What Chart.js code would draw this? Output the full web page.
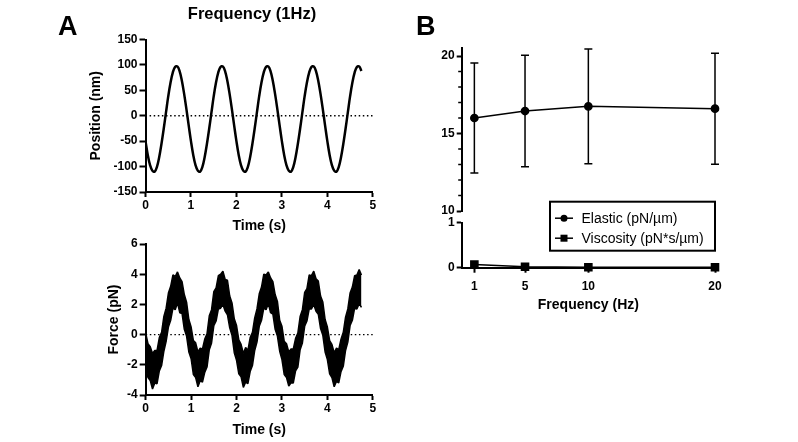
<!DOCTYPE html>
<html>
<head>
<meta charset="utf-8">
<script src="https://cdn.jsdelivr.net/npm/chart.js@4.4.1/dist/chart.umd.min.js"></script>
<style>
  html, body { margin: 0; padding: 0; background: #fff; }
  #wrap { position: relative; width: 798px; height: 442px; overflow: hidden; background: #fff; }
  canvas { position: absolute; }
</style>
</head>
<body>
<div id="wrap">
  <canvas id="posChart" width="400" height="240" style="left:0;top:0"></canvas>
  <canvas id="forceChart" width="400" height="212" style="left:0;top:230px"></canvas>
  <canvas id="elasticChart" width="398" height="225" style="left:400px;top:0"></canvas>
  <canvas id="viscChart" width="398" height="130" style="left:400px;top:190px"></canvas>
</div>
<script>
// ---- data ----
const timeS = [
  0, 0.05, 0.1, 0.15, 0.2, 0.25, 0.3, 0.35, 0.4, 0.45, 0.5, 0.55, 0.6, 0.65, 0.7, 0.75, 0.8, 0.85, 0.9, 0.95,
  1, 1.05, 1.1, 1.15, 1.2, 1.25, 1.3, 1.35, 1.4, 1.45, 1.5, 1.55, 1.6, 1.65, 1.7, 1.75, 1.8, 1.85, 1.9, 1.95,
  2, 2.05, 2.1, 2.15, 2.2, 2.25, 2.3, 2.35, 2.4, 2.45, 2.5, 2.55, 2.6, 2.65, 2.7, 2.75, 2.8, 2.85, 2.9, 2.95,
  3, 3.05, 3.1, 3.15, 3.2, 3.25, 3.3, 3.35, 3.4, 3.45, 3.5, 3.55, 3.6, 3.65, 3.7, 3.75, 3.8, 3.85, 3.9, 3.95,
  4, 4.05, 4.1, 4.15, 4.2, 4.25, 4.3, 4.35, 4.4, 4.45, 4.5, 4.55, 4.6, 4.65, 4.7, 4.75
];
const positionNm = [
  -50, -77, -97, -108, -110, -101, -82, -56, -26, 6, 38, 65, 85, 96, 97, 88, 69, 43, 13, -19,
  -50, -77, -97, -108, -110, -101, -82, -56, -26, 6, 38, 65, 85, 96, 97, 88, 69, 43, 13, -19,
  -50, -77, -97, -108, -110, -101, -82, -56, -26, 6, 38, 65, 85, 96, 97, 88, 69, 43, 13, -19,
  -50, -77, -97, -108, -110, -101, -82, -56, -26, 6, 38, 65, 85, 96, 97, 88, 69, 43, 13, -19,
  -50, -77, -97, -108, -110, -101, -82, -56, -26, 6, 38, 65, 85, 96, 97, 88
];
// noisy force trace: upper and lower edge of the band
const forceUpper = [
  0.1, -0.6, -0.8, -1.25, -1.05, -1.05, -0.2, 0.15, 1.2, 1.75, 2.75, 3.2, 3.95, 3.85, 4.15, 3.75, 3.5, 2.65, 2.15, 1.0,
  0.5, -0.4, -0.55, -1.15, -0.9, -0.95, -0.3, 0.05, 1.25, 1.65, 2.85, 3.1, 3.9, 4.0, 4.2, 3.65, 3.6, 2.55, 2.1, 1.05,
  0.6, -0.35, -0.65, -1.25, -0.85, -1.05, -0.2, 0.15, 1.1, 1.7, 2.7, 3.15, 4.0, 3.95, 4.15, 3.75, 3.5, 2.65, 2.2, 0.95,
  0.55, -0.45, -0.6, -1.15, -0.95, -0.95, -0.25, 0.1, 1.2, 1.65, 2.8, 3.05, 3.95, 3.9, 4.2, 3.7, 3.55, 2.55, 2.15, 1.0,
  0.5, -0.4, -0.65, -1.2, -0.9, -1.0, -0.3, 0.15, 1.15, 1.7, 2.75, 3.15, 3.9, 3.95, 4.3, 3.95
];
const forceLower = [
  -2.15, -2.85, -3.05, -3.6, -3.2, -3.25, -2.4, -2.05, -1.1, -0.45, 0.5, 0.95, 1.75, 1.65, 2.1, 1.45, 1.4, 0.35, -0.1, -1.15,
  -1.6, -2.65, -2.85, -3.45, -3.05, -3.15, -2.5, -2.15, -1.0, -0.55, 0.6, 0.9, 1.7, 1.75, 2.0, 1.55, 1.3, 0.45, -0.05, -1.2,
  -1.7, -2.6, -2.8, -3.5, -3.15, -3.25, -2.45, -2.05, -1.05, -0.5, 0.55, 0.95, 1.75, 1.65, 2.05, 1.45, 1.35, 0.35, -0.1, -1.1,
  -1.65, -2.65, -2.85, -3.4, -3.2, -3.2, -2.4, -2.15, -1.0, -0.55, 0.55, 0.9, 1.7, 1.7, 2.0, 1.55, 1.35, 0.4, -0.05, -1.15,
  -1.65, -2.6, -2.85, -3.45, -3.1, -3.2, -2.45, -2.1, -1.05, -0.5, 0.6, 0.95, 1.75, 1.7, 2.05, 1.8
];

const freqHz = [1, 5, 10, 20];
const elasticMean = [16.0, 16.45, 16.75, 16.6];
const elasticSd = [3.55, 3.6, 3.7, 3.58];
const viscosity = [0.07, 0.02, 0.01, 0.01];
const seriesNames = ['Elastic (pN/\u00b5m)', 'Viscosity (pN*s/\u00b5m)'];

const elasticTicks = [10, 15, 20];
const elasticMinor = [11, 12, 13, 14, 16, 17, 18, 19];
const viscTicks = [0, 1];
const freqTicks = [1, 5, 10, 20];

// ---- shared style ----
const FONT = "'Liberation Sans', Arial, Helvetica, sans-serif";
Chart.defaults.font.family = FONT;
Chart.defaults.color = '#000';
Chart.defaults.animation = false;

const tickFont = { size: 12, weight: 'bold' };
const titleFont = { size: 14, weight: 'bold' };

function axis(extra) {
  return Object.assign({
    type: 'linear',
    grid: { drawOnChartArea: false, tickLength: 5, tickColor: '#000', tickWidth: 2 },
    border: { color: '#000', width: 2 },
    ticks: { font: tickFont, color: '#000', maxRotation: 0, padding: 1 },
  }, extra);
}

const zeroLine = {
  id: 'zeroLine',
  beforeDatasetsDraw(chart) {
    const { ctx, chartArea: a, scales: { y } } = chart;
    const py = y.getPixelForValue(0);
    ctx.save();
    ctx.strokeStyle = '#000';
    ctx.lineWidth = 1.3;
    ctx.setLineDash([1.5, 2.6]);
    ctx.beginPath();
    ctx.moveTo(a.left, py);
    ctx.lineTo(a.right, py);
    ctx.stroke();
    ctx.restore();
  }
};

const headings = {
  id: 'headings',
  afterDraw(chart, args, opts) {
    const ctx = chart.ctx;
    ctx.save();
    ctx.fillStyle = '#000';
    ctx.textBaseline = 'alphabetic';
    opts.items.forEach(it => {
      ctx.font = 'bold ' + it.size + 'px ' + FONT;
      ctx.textAlign = it.align;
      ctx.fillText(it.text, it.x, it.y);
    });
    ctx.restore();
  }
};

// ---- A: position ----
new Chart(document.getElementById('posChart'), {
  type: 'line',
  data: {
    datasets: [{
      data: timeS.map((t, i) => ({ x: t, y: positionNm[i] })),
      borderColor: '#000',
      borderWidth: 2.5,
      pointRadius: 0,
      tension: 0.4,
      fill: false,
    }],
  },
  options: {
    responsive: false,
    layout: { padding: { left: 88, right: 27.2, top: 39.5, bottom: 5.6 } },
    plugins: {
      legend: { display: false },
      tooltip: { enabled: false },
      headings: { items: [
        { text: 'A', x: 58, y: 35, size: 27, align: 'left' },
        { text: 'Frequency (1Hz)', x: 252, y: 18.5, size: 16.5, align: 'center' },
      ] },
    },
    scales: {
      x: axis({
        min: 0, max: 5,
        ticks: { font: tickFont, stepSize: 1, maxRotation: 0, padding: 1 },
        title: { display: true, text: 'Time (s)', font: titleFont, padding: 0 },
        afterFit: s => { s.height = 42.4; },
      }),
      y: axis({
        min: -150, max: 150,
        grid: { drawOnChartArea: false, tickLength: 6, tickColor: '#000', tickWidth: 2 },
        ticks: { font: tickFont, stepSize: 50, padding: 2 },
        title: { display: true, text: 'Position (nm)', font: titleFont, padding: 0 },
        afterFit: s => { s.width = 57.5; },
      }),
    },
  },
  plugins: [zeroLine, headings],
});

// ---- A: force ----
new Chart(document.getElementById('forceChart'), {
  type: 'line',
  data: {
    datasets: [
      {
        data: timeS.map((t, i) => ({ x: t, y: forceUpper[i] })),
        borderColor: '#000',
        backgroundColor: '#000',
        borderWidth: 1.5,
        borderJoinStyle: 'bevel',
        pointRadius: 0,
        tension: 0,
        fill: '+1',
      },
      {
        data: timeS.map((t, i) => ({ x: t, y: forceLower[i] })),
        borderColor: '#000',
        borderWidth: 1.5,
        borderJoinStyle: 'bevel',
        pointRadius: 0,
        tension: 0,
        fill: false,
      },
    ],
  },
  options: {
    responsive: false,
    layout: { padding: { left: 105.6, right: 27.2, top: 14, bottom: 3.6 } },
    plugins: { legend: { display: false }, tooltip: { enabled: false } },
    scales: {
      x: axis({
        min: 0, max: 5,
        ticks: { font: tickFont, stepSize: 1, maxRotation: 0, padding: 1 },
        title: { display: true, text: 'Time (s)', font: titleFont, padding: 0 },
        afterFit: s => { s.height = 43.4; },
      }),
      y: axis({
        min: -4, max: 6,
        grid: { drawOnChartArea: false, tickLength: 6, tickColor: '#000', tickWidth: 2 },
        ticks: { font: tickFont, stepSize: 2, padding: 2 },
        title: { display: true, text: 'Force (pN)', font: titleFont, padding: 0 },
        afterFit: s => { s.width = 40.1; },
      }),
    },
  },
  plugins: [zeroLine],
});

// ---- B: elastic (upper segment of the broken axis) ----
const errorBars = {
  id: 'errorBars',
  beforeDatasetsDraw(chart) {
    const { ctx, scales: { x, y } } = chart;
    ctx.save();
    ctx.strokeStyle = '#000';
    ctx.lineWidth = 1.5;
    freqHz.forEach((f, i) => {
      const px = x.getPixelForValue(f);
      const top = y.getPixelForValue(elasticMean[i] + elasticSd[i]);
      const bot = y.getPixelForValue(elasticMean[i] - elasticSd[i]);
      ctx.beginPath();
      ctx.moveTo(px, top); ctx.lineTo(px, bot);
      ctx.moveTo(px - 4, top); ctx.lineTo(px + 4, top);
      ctx.moveTo(px - 4, bot); ctx.lineTo(px + 4, bot);
      ctx.stroke();
    });
    ctx.restore();
  }
};

const minorTicks = {
  id: 'minorTicks',
  afterDraw(chart) {
    const { ctx, chartArea: a, scales: { y } } = chart;
    ctx.save();
    ctx.strokeStyle = '#000';
    ctx.lineWidth = 1.5;
    elasticMinor.forEach(v => {
      const py = y.getPixelForValue(v);
      ctx.beginPath();
      ctx.moveTo(a.left - 3.5, py);
      ctx.lineTo(a.left, py);
      ctx.stroke();
    });
    ctx.restore();
  }
};

new Chart(document.getElementById('elasticChart'), {
  type: 'line',
  data: {
    datasets: [{
      label: seriesNames[0],
      data: freqHz.map((f, i) => ({ x: f, y: elasticMean[i] })),
      borderColor: '#000',
      backgroundColor: '#000',
      borderWidth: 1.5,
      pointRadius: 3.6,
      pointStyle: 'circle',
      clip: false,
    }],
  },
  options: {
    responsive: false,
    layout: { padding: { left: 11.7, right: 83, top: 48.25, bottom: 14 } },
    plugins: {
      legend: { display: false },
      tooltip: { enabled: false },
      headings: { items: [{ text: 'B', x: 16, y: 35, size: 27, align: 'left' }] },
    },
    scales: {
      x: { type: 'linear', min: 0, max: 20, display: false },
      y: axis({
        min: 10, max: 20.5,
        afterBuildTicks: s => { s.ticks = elasticTicks.map(v => ({ value: v })); },
        ticks: { font: tickFont, padding: 2 },
        afterFit: s => { s.width = 50; },
      }),
    },
  },
  plugins: [errorBars, minorTicks, headings],
});

// ---- B: viscosity (lower segment) with the boxed legend ----
const boxLegend = {
  id: 'boxLegend',
  afterDraw(chart) {
    const { ctx, chartArea: a } = chart;
    const w = 165, h = 49;
    const left = a.right - w, top = a.top - 21;
    ctx.save();
    ctx.fillStyle = '#fff';
    ctx.fillRect(left, top, w, h);
    ctx.strokeStyle = '#000';
    ctx.lineWidth = 2;
    ctx.strokeRect(left, top, w, h);
    ctx.font = '14px ' + FONT;
    ctx.textBaseline = 'middle';
    ctx.textAlign = 'left';
    seriesNames.forEach((name, i) => {
      const cy = top + 16.5 + i * 20;
      ctx.fillStyle = '#000';
      ctx.lineWidth = 1.5;
      ctx.beginPath();
      ctx.moveTo(left + 5, cy);
      ctx.lineTo(left + 23, cy);
      ctx.stroke();
      if (i === 0) {
        ctx.beginPath();
        ctx.arc(left + 14, cy, 3.5, 0, Math.PI * 2);
        ctx.fill();
      } else {
        ctx.fillRect(left + 10.5, cy - 3.5, 7, 7);
      }
      ctx.fillText(name, left + 31.5, cy + 0.5);
    });
    ctx.restore();
  }
};

new Chart(document.getElementById('viscChart'), {
  type: 'line',
  data: {
    datasets: [{
      label: seriesNames[1],
      data: freqHz.map((f, i) => ({ x: f, y: viscosity[i] })),
      borderColor: '#000',
      backgroundColor: '#000',
      borderWidth: 1.5,
      pointRadius: 5,
      pointStyle: 'rect',
      clip: false,
    }],
  },
  options: {
    responsive: false,
    layout: { padding: { left: 11.7, right: 83, top: 32.7, bottom: 6.6 } },
    plugins: { legend: { display: false }, tooltip: { enabled: false } },
    scales: {
      x: axis({
        min: 0, max: 20,
        afterBuildTicks: s => { s.ticks = freqTicks.map(v => ({ value: v })); },
        ticks: { font: tickFont, maxRotation: 0, padding: 6.5 },
        title: { display: true, text: 'Frequency (Hz)', font: titleFont, padding: 0 },
        afterFit: s => { s.height = 45.7; },
      }),
      y: axis({
        min: 0, max: 1,
        afterBuildTicks: s => { s.ticks = viscTicks.map(v => ({ value: v })); },
        ticks: { font: tickFont, padding: 2 },
        afterFit: s => { s.width = 50; },
      }),
    },
  },
  plugins: [boxLegend],
});
</script>
</body>
</html>
